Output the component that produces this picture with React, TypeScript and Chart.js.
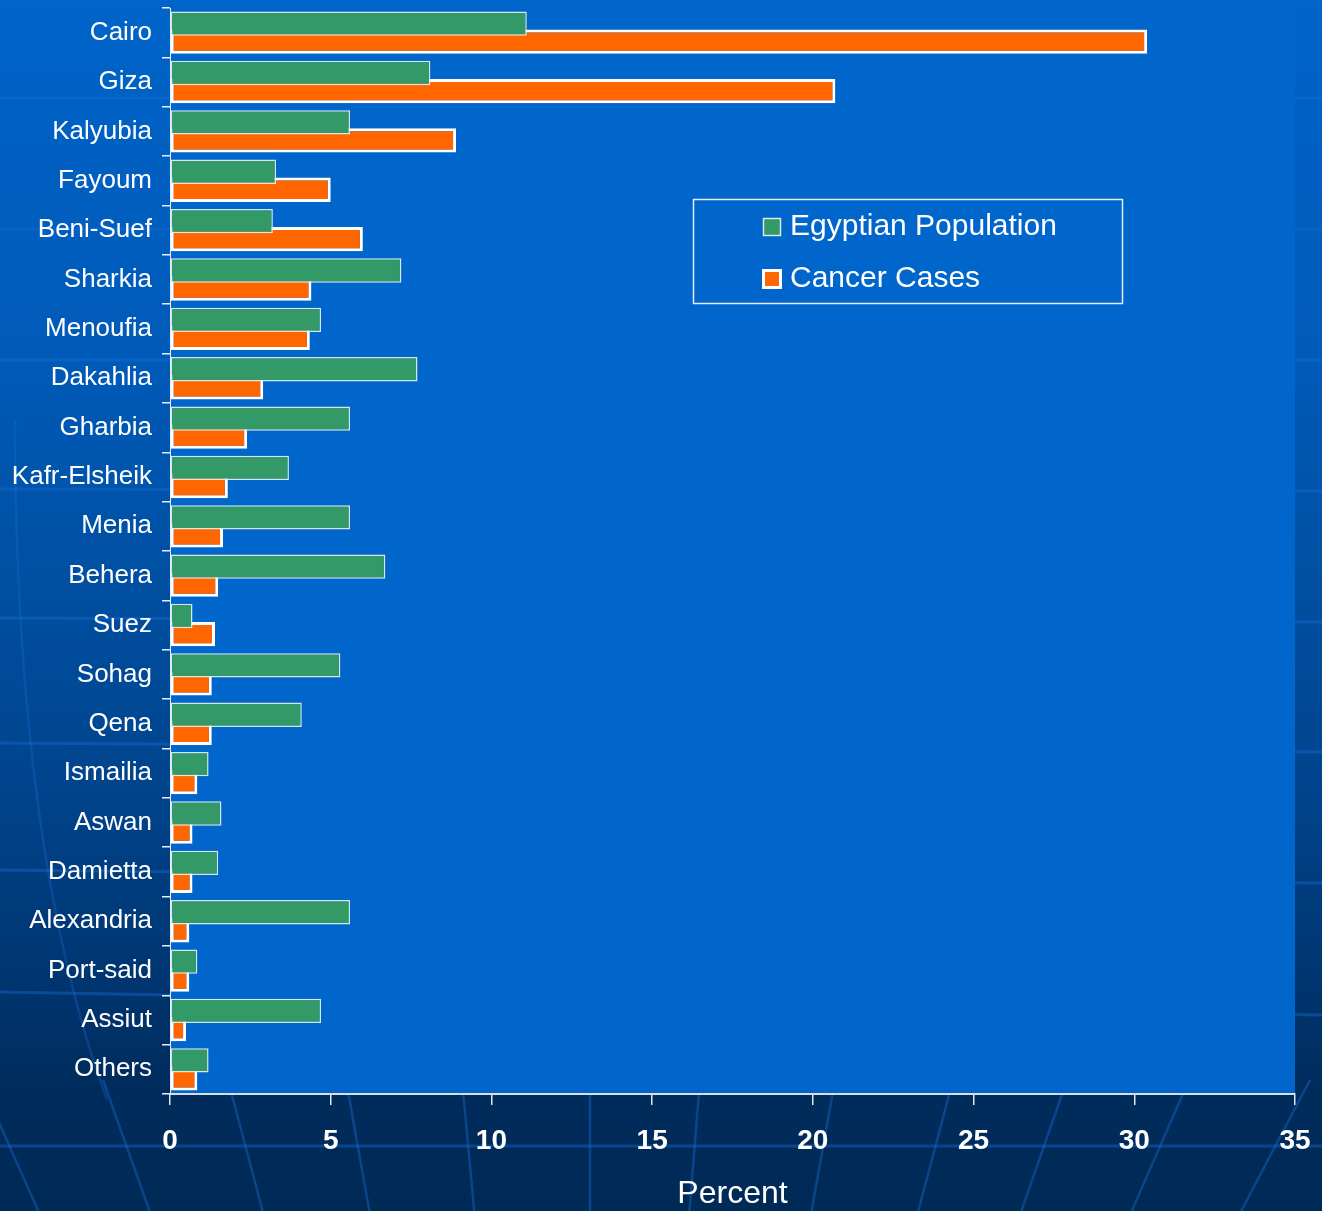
import React, { useEffect, useRef } from "react";
import { Chart, registerables } from "chart.js";

Chart.register(...registerables);

const FONT = '"Liberation Sans", Arial, Helvetica, sans-serif';

const categories = [
  "Cairo", "Giza", "Kalyubia", "Fayoum", "Beni-Suef", "Sharkia", "Menoufia",
  "Dakahlia", "Gharbia", "Kafr-Elsheik", "Menia", "Behera", "Suez", "Sohag",
  "Qena", "Ismailia", "Aswan", "Damietta", "Alexandria", "Port-said", "Assiut", "Others",
];

const populationPct = [
  11.1, 8.1, 5.6, 3.3, 3.2, 7.2, 4.7, 7.7, 5.6, 3.7, 5.6, 6.7, 0.7, 5.3, 4.1,
  1.2, 1.6, 1.5, 5.6, 0.85, 4.7, 1.2,
];

const cancerPct = [
  30.4, 20.7, 8.9, 5.0, 6.0, 4.4, 4.35, 2.9, 2.4, 1.8, 1.65, 1.5, 1.4, 1.3, 1.3,
  0.85, 0.7, 0.7, 0.6, 0.6, 0.5, 0.85,
];

const seriesNames = ["Egyptian Population", "Cancer Cases"];
const xTickValues = [0, 5, 10, 15, 20, 25, 30, 35];
const xAxisTitle = "Percent";

const bgPlugin = {
  id: "bgPlugin",
  beforeDraw(chart: any) {
    const { ctx, width, height, chartArea } = chart;
    ctx.save();
    const g = ctx.createLinearGradient(0, 0, 0, height);
    g.addColorStop(0, "#0064c9");
    g.addColorStop(0.3, "#005ab8");
    g.addColorStop(0.5, "#004e9f");
    g.addColorStop(0.65, "#00448c");
    g.addColorStop(0.8, "#003672");
    g.addColorStop(0.9, "#002c5c");
    g.addColorStop(1, "#002a56");
    ctx.fillStyle = g;
    ctx.fillRect(0, 0, width, height);

    // decorative globe lines
    ctx.strokeStyle = "rgba(25,110,215,0.4)";
    ctx.lineWidth = 3;
    const lats: [number, number][] = [
      [98, 98], [229, 229], [360, 360], [489, 491], [618, 622],
      [743, 752], [870, 883], [992, 1015], [1146, 1146],
    ];
    lats.forEach(([yl, yr]) => {
      ctx.beginPath();
      ctx.moveTo(0, yl);
      ctx.lineTo(width, yr);
      ctx.stroke();
    });
    ctx.lineWidth = 2.5;
    const poleX = 590, poleY = 2450;
    const mers = [-20, 103, 228, 346, 462, 590, 700, 835, 953, 1067, 1189, 1310];
    mers.forEach((x0) => {
      const xAt = (y: number) => x0 + ((poleX - x0) * (y - 1080)) / (poleY - 1080);
      ctx.beginPath();
      ctx.moveTo(xAt(1080), 1080);
      ctx.lineTo(xAt(height), height);
      ctx.stroke();
    });
    ctx.strokeStyle = "rgba(25,110,215,0.3)";
    ctx.beginPath();
    ctx.moveTo(15, 420);
    ctx.quadraticCurveTo(15, 850, 107, 1100);
    ctx.stroke();

    ctx.fillStyle = "#0066cc";
    ctx.fillRect(chartArea.left, chartArea.top, chartArea.right - chartArea.left, chartArea.bottom - chartArea.top);
    ctx.restore();
  },
};

const legendPlugin = {
  id: "customLegend",
  afterDraw(chart: any) {
    const { ctx } = chart;
    ctx.save();
    ctx.strokeStyle = "#e6ecf5";
    ctx.lineWidth = 1.5;
    ctx.strokeRect(693.5, 199.5, 429, 104);
    chart.data.datasets.forEach((ds: any, i: number) => {
      const cy = 227 + i * 52;
      if (i === 0) {
        ctx.fillStyle = ds.backgroundColor;
        ctx.fillRect(763, cy - 9, 18, 18);
        ctx.strokeStyle = "rgba(225,238,235,0.95)";
        ctx.lineWidth = 1.5;
        ctx.strokeRect(763.5, cy - 8.5, 17, 17);
      } else {
        ctx.fillStyle = "#ffffff";
        ctx.fillRect(762, cy - 10, 20, 20);
        ctx.fillStyle = ds.backgroundColor;
        ctx.fillRect(765, cy - 7, 14, 14);
      }
      ctx.fillStyle = "#ffffff";
      ctx.font = `30px ${FONT}`;
      ctx.textBaseline = "middle";
      ctx.textAlign = "left";
      ctx.fillText(ds.label, 790, cy);
    });
    ctx.restore();
  },
};

export default function App() {
  const ref = useRef<HTMLCanvasElement>(null);

  useEffect(() => {
    if (!ref.current) return;
    Chart.defaults.font.family = FONT;
    const chart = new Chart(ref.current, {
      type: "bar",
      data: {
        labels: categories,
        datasets: [
          {
            label: seriesNames[0],
            data: populationPct,
            backgroundColor: "#339966",
            borderColor: "rgba(225,238,235,0.95)",
            borderWidth: 1.5,
            borderSkipped: false,
            categoryPercentage: 0.73,
            barPercentage: 1.35,
          },
          {
            label: seriesNames[1],
            data: cancerPct,
            backgroundColor: "#ff6600",
            borderColor: "#ffffff",
            borderWidth: 3,
            borderSkipped: false,
            categoryPercentage: 0.73,
            barPercentage: 1.35,
          },
        ],
      },
      options: {
        indexAxis: "y",
        responsive: false,
        animation: false,
        layout: { padding: { top: 8, right: 27, left: 0, bottom: 0 } },
        plugins: {
          legend: { display: false },
          tooltip: { enabled: false },
        },
        scales: {
          x: {
            min: 0,
            max: 35,
            afterBuildTicks: (s: any) => {
              s.ticks = xTickValues.map((v) => ({ value: v }));
            },
            ticks: {
              color: "#ffffff",
              font: { family: FONT, size: 28, weight: "bold" },
              padding: 19,
              maxRotation: 0,
            },
            grid: {
              drawOnChartArea: false,
              drawTicks: true,
              tickLength: 11,
              color: "#e0e6ef",
              lineWidth: 1.5,
            },
            border: { display: true, color: "#d8dde6", width: 2 },
            title: {
              display: true,
              text: xAxisTitle,
              color: "#ffffff",
              font: { family: FONT, size: 32, lineHeight: 1 },
              padding: { top: 0, bottom: 1 },
            },
            afterFit: (s: any) => {
              s.height = 117;
              s.paddingLeft = 0;
              s.paddingRight = 0;
            },
          },
          y: {
            ticks: {
              color: "#ffffff",
              font: { family: FONT, size: 26 },
              padding: 10,
            },
            grid: {
              drawOnChartArea: false,
              tickLength: 8,
              color: "#e8eef8",
              lineWidth: 1.5,
              offset: true,
            },
            border: { display: true, color: "#e8eef8", width: 1 },
            afterFit: (s: any) => {
              s.width = 170;
              s.paddingTop = 0;
              s.paddingBottom = 0;
            },
          },
        },
      } as any,
      plugins: [bgPlugin, legendPlugin],
    });
    return () => chart.destroy();
  }, []);

  return (
    <div style={{ position: "fixed", left: 0, top: 0, width: 1322, height: 1211, overflow: "hidden" }}>
      <canvas ref={ref} width={1322} height={1211} style={{ display: "block", width: 1322, height: 1211 }} />
    </div>
  );
}
